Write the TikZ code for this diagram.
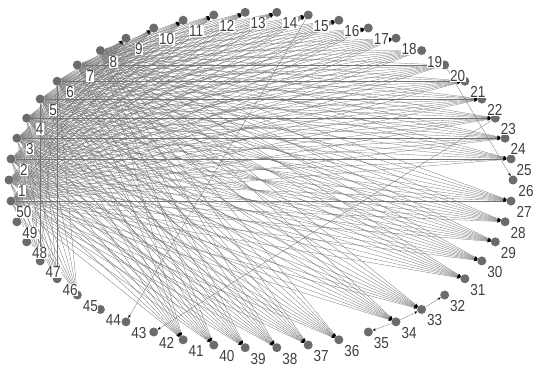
\documentclass[tikz,border=0pt]{standalone}
\usepackage{fontspec}
\setmainfont{Liberation Sans}
\usetikzlibrary{arrows.meta}
\pgfdeclarelayer{bg}
\pgfsetlayers{bg,main}
\tikzset{
  vert/.style={circle, fill=black!58, draw=none, inner sep=0pt, minimum size=9pt},
  vlabel/.style={fill=white, inner sep=0.4pt, text=black!75, font=\fontsize{13.5}{13.5}\selectfont},
  edgeline/.style={draw=black!55, line width=0.3pt, -{Stealth[length=3.2pt,width=2.4pt,black]}},
}
\begin{document}
\begin{tikzpicture}[x=1pt,y=-1pt]
\useasboundingbox (0,0) rectangle (537,377);
% vertices on an ellipse
\foreach \k in {1,...,50}{
  \pgfmathsetmacro\ph{180-7.2*(\k-1)}
  \node[vert] (n\k) at ({261+252*cos(\ph)},{180-168*sin(\ph)}) {};
}
% edges behind
\begin{pgfonlayer}{bg}
\foreach \s in {1,...,6,50}{
  \foreach \t in {9,...,25,27,28,29,30,31,33,34,36,37,38,39,40,41,45,46,47}{
    \draw[edgeline] (n\s) -- (n\t);
  }
}
\foreach \s in {7,8}{
  \foreach \t in {11,...,25,27,28,29,30,31,33,34,36,37,38,39,40,41}{
    \draw[edgeline] (n\s) -- (n\t);
  }
}
\draw[edgeline] (n20) -- (n26);
\draw[edgeline] (n15) -- (n43);
\draw[edgeline] (n23) -- (n42);
\draw[edgeline] (n33) -- (n32);
\draw[edgeline] (n34) -- (n33);
\draw[edgeline] (n34) -- (n35);
\end{pgfonlayer}
% labels
\foreach \k in {1,...,50}{
  \node[vlabel] (l\k) at ([shift={(13,11)}]n\k.center) {\scalebox{1}[1.18]{\k}};
}
\end{tikzpicture}
\end{document}
